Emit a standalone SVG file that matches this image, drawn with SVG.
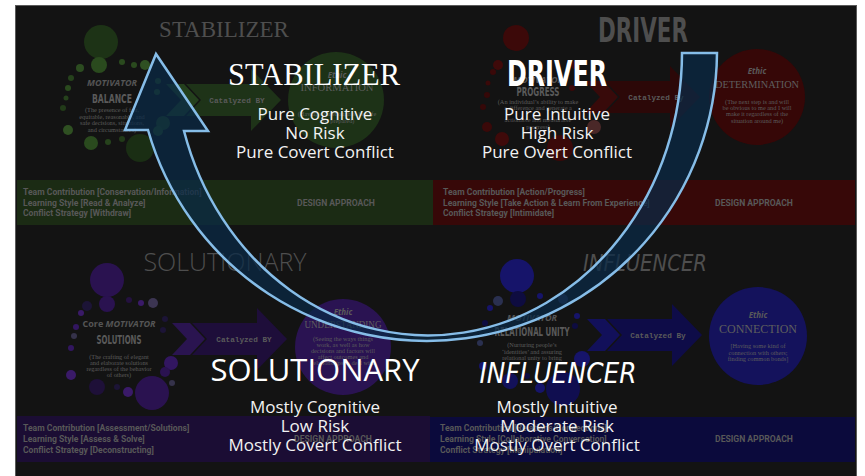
<svg xmlns="http://www.w3.org/2000/svg" width="865" height="476" viewBox="0 0 865 476">
<defs>
<style>
.dimTitleSerif{font-family:"Liberation Serif",serif;fill:#4e4e4e}
.dimCond{font-family:"DejaVu Sans Condensed","DejaVu Sans",sans-serif;font-weight:bold;fill:#4e4e4e}
.mot{font-family:"Open Sans",sans-serif;font-style:italic;font-weight:bold;font-size:9px;fill:#555;text-anchor:middle}
.motName{font-family:"DejaVu Sans Condensed","DejaVu Sans",sans-serif;font-weight:bold;font-size:11.5px;fill:#5a5a5a;text-anchor:middle}
.desc{font-family:"Liberation Serif",serif;font-size:6.3px;fill:#5c5c5c;text-anchor:middle}
.ethic{font-family:"Open Sans",sans-serif;font-style:italic;font-weight:bold;font-size:8px;fill:#5a5a5a;text-anchor:middle}
.ethicName{font-family:"Liberation Serif",serif;fill:#5e5e5e;text-anchor:middle}
.cat{font-family:"Liberation Mono",monospace;font-weight:bold;font-size:7.7px;fill:#5a5a5a;text-anchor:middle}
.band{font-family:Roboto,sans-serif;font-weight:bold;font-size:8.6px;fill:#585858}
.da{font-family:Roboto,sans-serif;font-weight:bold;font-size:8.6px;fill:#585858;text-anchor:middle}
.big{fill:#ffffff;text-anchor:middle}
.sub{font-family:"Open Sans",sans-serif;font-size:17px;fill:#f2f2f2;text-anchor:middle}
.arc{fill:#0a2a46;fill-opacity:0.72;stroke:#86bde8;stroke-width:2.5;stroke-linejoin:miter}
</style>
<g id="catShape">
<path d="M0,-16 L65,-16 L65,-31 L95,0 L65,31 L65,16 L0,16 L15,0 Z"/>
</g>
<g id="chev">
<path d="M-20,-16 L-2,-16 L13,0 L-2,16 L-20,16 L-5,0 Z"/>
</g>
</defs>

<rect x="0" y="0" width="865" height="476" fill="#ffffff"/>
<rect x="15.5" y="5.5" width="841" height="475" fill="#131313" stroke="#5a5a5a" stroke-width="1"/>

<!-- STABILIZER quadrant -->
<g id="stabilizer">
<rect x="17" y="180" width="416" height="45" fill="#1b2b14"/>
<text class="dimTitleSerif" x="224" y="37" font-size="23" text-anchor="middle">STABILIZER</text>
<g fill="#22391a">
<circle cx="101" cy="42" r="17" fill="#1d3316"/>
<circle cx="99" cy="65" r="8" fill="#2a4a1e"/>
<circle cx="80" cy="68" r="4" fill="#2c4c20"/>
<circle cx="122" cy="62" r="3" fill="#2a4a1e"/>
<circle cx="134" cy="65" r="3" fill="#2a4a1e"/>
<circle cx="145" cy="65" r="5" fill="#2f5022"/>
<circle cx="71" cy="78" r="3" fill="#26421c"/>
<circle cx="68" cy="88" r="3" fill="#2a4a1e"/>
<circle cx="66" cy="98" r="2.5" fill="#26421c"/>
<circle cx="63" cy="108" r="3" fill="#223b19"/>
<circle cx="68" cy="130" r="5" fill="#2f5022"/>
<circle cx="91" cy="143" r="7" fill="#2a4a1e"/>
<circle cx="108" cy="142" r="3" fill="#26421c"/>
<circle cx="122" cy="139" r="3" fill="#223b19"/>
<circle cx="140" cy="148" r="14" fill="#1a2e14"/>
<circle cx="158" cy="81" r="3" fill="#2a4a1e"/>
<circle cx="157" cy="92" r="3" fill="#2a4a1e"/>
<circle cx="163" cy="123" r="7" fill="#26421c"/>
<circle cx="158" cy="131" r="5" fill="#2a4a1e"/>
</g>
<text class="mot" x="112" y="86">MOTIVATOR</text>
<text class="motName" x="112" y="103" textLength="40" lengthAdjust="spacingAndGlyphs">BALANCE</text>
<text class="desc" x="112" y="112">(The presence of fair,</text>
<text class="desc" x="112" y="118.5">equitable, reasonable, and</text>
<text class="desc" x="112" y="125">safe decisions, situations,</text>
<text class="desc" x="112" y="131.5">and circumstances)</text>
<use href="#catShape" x="186" y="100" fill="#1e3318"/>
<use href="#chev" x="186" y="100" fill="#24401d"/>
<text class="cat" x="237" y="102.5">Catalyzed BY</text>
<circle cx="336" cy="100" r="48" fill="#1d3217"/>
<text class="ethic" x="337" y="78">Ethic</text>
<text class="ethicName" x="337" y="91" font-size="11" textLength="73" lengthAdjust="spacingAndGlyphs">INFORMATION</text>
<text class="desc" x="337" y="116">(Having data enough to be safe</text>
<text class="desc" x="337" y="122.5">and prepared)</text>
<text class="band" x="23" y="195">Team Contribution [Conservation/Information]</text>
<text class="band" x="23" y="205.5">Learning Style [Read &amp; Analyze]</text>
<text class="band" x="23" y="216">Conflict Strategy [Withdraw]</text>
<text class="da" x="336" y="206">DESIGN APPROACH</text>
<text class="big" x="314" y="85" font-family="Liberation Serif, serif" font-size="30.5">STABILIZER</text>
<text class="sub" x="315" y="120">Pure Cognitive</text>
<text class="sub" x="315" y="139">No Risk</text>
<text class="sub" x="315" y="158">Pure Covert Conflict</text>
</g>

<!-- DRIVER quadrant -->
<g id="driver">
<rect x="433" y="180" width="422" height="45" fill="#370808"/>
<text class="dimCond" x="643" y="42" font-size="33" text-anchor="middle" textLength="90" lengthAdjust="spacingAndGlyphs">DRIVER</text>
<g>
<circle cx="516" cy="38" r="13" fill="#3c0909"/>
<circle cx="498" cy="65" r="5" fill="#3f0a0a"/>
<circle cx="493" cy="72" r="3" fill="#3a0909"/>
<circle cx="488" cy="83" r="2.5" fill="#3a0909"/>
<circle cx="487" cy="95" r="3" fill="#350808"/>
<circle cx="483" cy="107" r="3" fill="#350808"/>
<circle cx="487" cy="127" r="5" fill="#3a0909"/>
<circle cx="502" cy="139" r="7" fill="#3f0a0a"/>
<circle cx="560" cy="148" r="13" fill="#3a0909"/>
<circle cx="575" cy="65" r="4" fill="#3a0909"/>
<circle cx="572" cy="88" r="3" fill="#3a0909"/>
<circle cx="594" cy="127" r="7" fill="#4a2828"/>
</g>
<text class="mot" x="538" y="83">MOTIVATOR</text>
<text class="motName" x="538" y="96" textLength="43" lengthAdjust="spacingAndGlyphs">PROGRESS</text>
<text class="desc" x="538" y="104">(An individual’s ability to make</text>
<text class="desc" x="538" y="110">a difference and generate a</text>
<text class="desc" x="538" y="122">actionable and measurable</text>
<text class="desc" x="538" y="128.5">progress)</text>
<use href="#catShape" x="605" y="97" fill="#2c0808"/>
<use href="#chev" x="605" y="97" fill="#380a0a"/>
<text class="cat" x="656" y="99.5">Catalyzed By</text>
<circle cx="757" cy="97" r="48" fill="#360707"/>
<text class="ethic" x="757" y="74">Ethic</text>
<text class="ethicName" x="757" y="87.5" font-size="11" textLength="84" lengthAdjust="spacingAndGlyphs">DETERMINATION</text>
<text class="desc" x="757" y="104">(The next step is and will</text>
<text class="desc" x="757" y="110">be obvious to me and I will</text>
<text class="desc" x="757" y="116">make it regardless of the</text>
<text class="desc" x="757" y="122.5">situation around me)</text>
<text class="band" x="443" y="195">Team Contribution [Action/Progress]</text>
<text class="band" x="443" y="205.5">Learning Style [Take Action &amp; Learn From Experience]</text>
<text class="band" x="443" y="216">Conflict Strategy [Intimidate]</text>
<text class="da" x="754" y="206">DESIGN APPROACH</text>
<text class="big" x="557" y="86" font-family="DejaVu Sans Condensed, DejaVu Sans, sans-serif" font-weight="bold" font-size="36" textLength="100" lengthAdjust="spacingAndGlyphs">DRIVER</text>
<text class="sub" x="557" y="120">Pure Intuitive</text>
<text class="sub" x="557" y="139">High Risk</text>
<text class="sub" x="557" y="158">Pure Overt Conflict</text>
</g>

<!-- SOLUTIONARY quadrant -->
<g id="solutionary">
<rect x="17" y="416" width="413" height="46" fill="#1b0d34"/>
<text x="225" y="271" font-family="Open Sans, sans-serif" font-weight="300" font-size="25" fill="#4e4e4e" text-anchor="middle">SOLUTIONARY</text>
<g>
<circle cx="107" cy="280" r="17" fill="#2a1250"/>
<circle cx="107" cy="304" r="8" fill="#2a1250"/>
<circle cx="87" cy="306" r="5" fill="#1c1436"/>
<circle cx="129" cy="300" r="3" fill="#24113f"/>
<circle cx="141" cy="303" r="3" fill="#3a1a68"/>
<circle cx="153" cy="303" r="5" fill="#3c3552"/>
<circle cx="81" cy="313" r="3" fill="#3a1a68"/>
<circle cx="76" cy="327" r="3" fill="#321660"/>
<circle cx="74" cy="336" r="3" fill="#35324a"/>
<circle cx="71" cy="348" r="3" fill="#321660"/>
<circle cx="71" cy="375" r="5" fill="#3a1a68"/>
<circle cx="97" cy="387" r="8" fill="#1e1038"/>
<circle cx="117" cy="387" r="3" fill="#1c1436"/>
<circle cx="128" cy="392" r="5" fill="#3a1a68"/>
<circle cx="152" cy="393" r="17" fill="#2a1250"/>
<circle cx="171" cy="363" r="7" fill="#321660"/>
<circle cx="165" cy="372" r="5" fill="#2a1250"/>
<circle cx="172" cy="383" r="3" fill="#35324a"/>
<circle cx="165" cy="319" r="3" fill="#1c1436"/>
<circle cx="163" cy="330" r="3" fill="#1c1436"/>
</g>
<text class="mot" x="119" y="327"><tspan font-style="normal">Core </tspan>MOTIVATOR</text>
<text class="motName" x="119" y="344" textLength="45" lengthAdjust="spacingAndGlyphs">SOLUTIONS</text>
<text class="desc" x="119" y="359">(The crafting of elegant</text>
<text class="desc" x="119" y="365">and elaborate solutions</text>
<text class="desc" x="119" y="371">regardless of the behavior</text>
<text class="desc" x="119" y="377">of others)</text>
<use href="#catShape" x="192" y="339" fill="#1e0e3a"/>
<use href="#chev" x="192" y="339" fill="#2a1450"/>
<text class="cat" x="244" y="341.5">Catalyzed BY</text>
<circle cx="343" cy="347" r="48" fill="#2a1352"/>
<text class="ethic" x="343" y="315">Ethic</text>
<text class="ethicName" x="343" y="328" font-size="11" textLength="77" lengthAdjust="spacingAndGlyphs">UNDERSTANDING</text>
<text class="desc" x="343" y="341">(Seeing the ways things</text>
<text class="desc" x="343" y="347">work, as well as how</text>
<text class="desc" x="343" y="353">decisions and factors will</text>
<text class="desc" x="343" y="359">affect outcomes and</text>
<text class="desc" x="343" y="365">relationships to deal with</text>
<text class="band" x="23" y="431">Team Contribution [Assessment/Solutions]</text>
<text class="band" x="23" y="441.5">Learning Style [Assess &amp; Solve]</text>
<text class="band" x="23" y="452.5">Conflict Strategy [Deconstructing]</text>
<text class="da" x="333" y="442">DESIGN APPROACH</text>
<text class="big" x="315" y="381" font-family="Open Sans, sans-serif" font-size="31">SOLUTIONARY</text>
<text class="sub" x="315" y="413">Mostly Cognitive</text>
<text class="sub" x="315" y="432">Low Risk</text>
<text class="sub" x="315" y="451">Mostly Covert Conflict</text>
</g>

<!-- INFLUENCER quadrant -->
<g id="influencer">
<rect x="430" y="417" width="425" height="45" fill="#0b0a3c"/>
<text x="645" y="271" font-family="DejaVu Sans, sans-serif" font-style="italic" font-weight="200" font-size="23" fill="#4e4e4e" text-anchor="middle" textLength="124" lengthAdjust="spacingAndGlyphs">INFLUENCER</text>
<g>
<circle cx="517" cy="276" r="17" fill="#16146a"/>
<circle cx="518" cy="299" r="8" fill="#0e0c40"/>
<circle cx="498" cy="301" r="5" fill="#2a3050"/>
<circle cx="490" cy="308" r="3" fill="#16146a"/>
<circle cx="540" cy="296" r="3" fill="#16146a"/>
<circle cx="563" cy="299" r="5" fill="#2e3452"/>
<circle cx="485" cy="323" r="3" fill="#0e0c40"/>
<circle cx="577" cy="316" r="3" fill="#16146a"/>
<circle cx="575" cy="326" r="3" fill="#0e0c40"/>
<circle cx="480" cy="343" r="3" fill="#2a3050"/>
<circle cx="582" cy="359" r="8" fill="#16146a"/>
<circle cx="483" cy="366" r="4" fill="#16146a"/>
<circle cx="510" cy="381" r="8" fill="#13115a"/>
<circle cx="527" cy="376" r="3" fill="#0e0c40"/>
<circle cx="540" cy="388" r="5" fill="#16146a"/>
<circle cx="563" cy="389" r="17" fill="#100e50"/>
</g>
<text class="mot" x="532" y="321">MOTIVATOR</text>
<text class="motName" x="532" y="336" textLength="75" lengthAdjust="spacingAndGlyphs">RELATIONAL UNITY</text>
<text class="desc" x="532" y="347">(Nurturing people’s</text>
<text class="desc" x="532" y="353.5">‘identities’ and assuring</text>
<text class="desc" x="532" y="360">relational unity to bring</text>
<use href="#catShape" x="607" y="335" fill="#0e0c48"/>
<use href="#chev" x="607" y="335" fill="#12105a"/>
<text class="cat" x="658" y="337.5">Catalyzed By</text>
<circle cx="758" cy="336" r="49" fill="#14125c"/>
<text class="ethic" x="758" y="318">Ethic</text>
<text class="ethicName" x="758" y="333" font-size="13.5" textLength="78" lengthAdjust="spacingAndGlyphs">CONNECTION</text>
<text class="desc" x="758" y="348">[Having some kind of</text>
<text class="desc" x="758" y="354.5">connection with others;</text>
<text class="desc" x="758" y="361">finding common bonds]</text>
<text class="band" x="440" y="431">Team Contribution [Relations/Connections]</text>
<text class="band" x="440" y="441.5">Learning Style [Collaborative Conversation]</text>
<text class="band" x="440" y="452.5">Conflict Strategy [Manipulation]</text>
<text class="da" x="754" y="442">DESIGN APPROACH</text>
<text class="big" x="558" y="383" font-family="DejaVu Sans, sans-serif" font-style="italic" font-weight="200" font-size="28" textLength="157" lengthAdjust="spacingAndGlyphs">INFLUENCER</text>
<text class="sub" x="557" y="413">Mostly Intuitive</text>
<text class="sub" x="557" y="432">Moderate Risk</text>
<text class="sub" x="557" y="451">Mostly Overt Conflict</text>
</g>

<!-- connectors -->
<g id="connectors">
<path class="arc" d="M717,53 L682,53 A254,283 0 0 1 184,131 L208,131 L156,54 L125,130 L148,130 A290,290 0 0 0 717,53 Z"/>
</g>
</svg>
